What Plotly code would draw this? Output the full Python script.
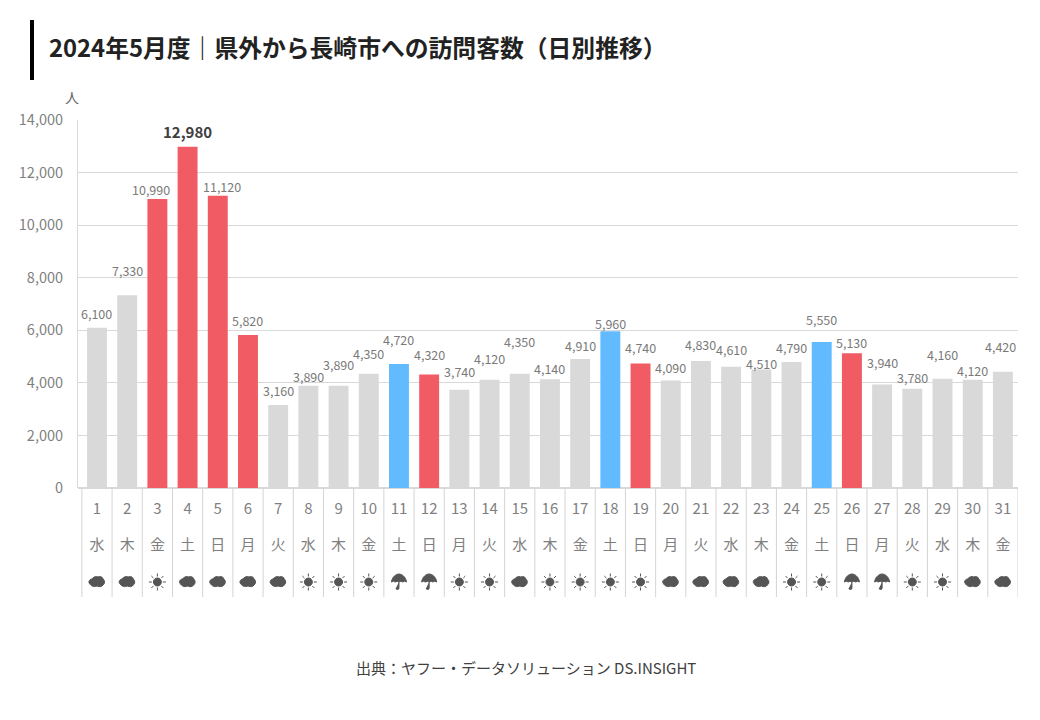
import plotly.graph_objects as go

days = list(range(1, 32))
visitors = [6100, 7330, 10990, 12980, 11120, 5820, 3160, 3890, 3890, 4350, 4720,
            4320, 3740, 4120, 4350, 4140, 4910, 5960, 4740, 4090, 4830, 4610,
            4510, 4790, 5550, 5130, 3940, 3780, 4160, 4120, 4420]
weekdays = list("水木金土日月火水木金土日月火水木金土日月火水木金土日月火水木金")
weather = ["cloud", "cloud", "sun", "cloud", "cloud", "cloud", "cloud", "sun", "sun", "sun",
           "rain", "rain", "sun", "sun", "cloud", "sun", "sun", "sun", "sun", "cloud", "cloud",
           "cloud", "cloud", "sun", "sun", "rain", "rain", "sun", "sun", "cloud", "cloud"]
holidays = [3, 4, 5, 6, 12, 19, 26]
saturdays = [11, 18, 25]
ytick_vals = [0, 2000, 4000, 6000, 8000, 10000, 12000, 14000]

# how far each label floats above its bar (px), they are hand placed in the original
label_lift = [14, 25, 10, 15, 9, 15, 14, 9, 21, 20, 24, 20, 18, 21, 32, 11, 13, 8,
              16, 13, 17, 17, 6, 15, 23, 11, 22, 11, 24, 9, 25]
label_nudge = {3: -6, 5: 4, 31: -2}

W, H = 1040, 720
LEFT, RIGHT, TOP, BOTTOM = 78, 1018, 120, 488
JP = "Noto Sans CJK JP"
RED, BLUE, GREY = "#F15B64", "#63BBFF", "#D9D9D9"
ICON = "#555555"

# weather pictograms, pixel paths around the cell centre
ICON_PATHS = {
    "cloud": "M-7,-2 C-9,-1 -8,3 -5,3 C-4,5 -1,6 1,5 C3,6 6,5 6,3 C8,2 8,-2 6,-3 "
             "C5,-5 2,-5 0,-4 C-2,-5 -5,-5 -7,-2 Z",
    "sun": "M-4,0 C-4,2.2 -2.2,4 0,4 C2.2,4 4,2.2 4,0 C4,-2.2 2.2,-4 0,-4 C-2.2,-4 -4,-2.2 -4,0 Z "
           "M0,5.5 L0,8.5 M0,-5.5 L0,-8.5 M5.5,0 L8.5,0 M-5.5,0 L-8.5,0 "
           "M3.9,3.9 L6,6 M-3.9,3.9 L-6,6 M3.9,-3.9 L6,-6 M-3.9,-3.9 L-6,-6",
    "rain": "M-7.5,0 C-7,5 -3,8 0,8 C3,8 7,5 7.5,0 Q5.5,1.5 3.7,0 Q2,1.5 0,0 Q-2,1.5 -3.7,0 "
            "Q-5.5,1.5 -7.5,0 Z M0,0 L0,-6 Q0,-7.5 -1.5,-7.5 Q-3,-7.5 -3,-6",
}


def px(x):
    return x / W


def py(y):
    return 1 - y / H


def bar_color(d):
    if d in holidays:
        return RED
    if d in saturdays:
        return BLUE
    return GREY


fig = go.Figure(go.Bar(
    x=days, y=visitors, width=0.66,
    marker=dict(color=[bar_color(d) for d in days], line_width=0),
    hoverinfo="x+y"))

# day / weekday rows live on their own axis below the plot, weather icons sit on row 1
fig.add_trace(go.Scatter(x=days, y=[3] * 31, yaxis="y2", mode="text", text=[str(d) for d in days],
                         textfont=dict(family=JP, size=15, color="#7F7F7F"), hoverinfo="skip"))
fig.add_trace(go.Scatter(x=days, y=[2] * 31, yaxis="y2", mode="text", text=weekdays,
                         textfont=dict(family=JP, size=15, color="#7F7F7F"), hoverinfo="skip"))

annotations = []
for d, v, lift in zip(days, visitors, label_lift):
    big = v == max(visitors)
    annotations.append(dict(
        x=d, y=v, xref="x", yref="y", yshift=lift, xshift=label_nudge.get(d, 0),
        text=f"<b>{v:,}</b>" if big else f"{v:,}",
        showarrow=False, yanchor="middle",
        font=dict(family=JP, size=15 if big else 12.5, color="#404040" if big else "#7A7A7A")))

annotations += [
    dict(x=px(47), y=py(47), xref="paper", yref="paper", xanchor="left", yanchor="middle",
         showarrow=False, text="<b>2024年5月度｜県外から長崎市への訪問客数（日別推移）</b>",
         font=dict(family=JP, size=23.8, color="#222222")),
    dict(x=px(72), y=py(97), xref="paper", yref="paper", xanchor="center", showarrow=False, text="人",
         yanchor="middle", font=dict(family=JP, size=14, color="#666666")),
    dict(x=px(526), y=py(667), xref="paper", yref="paper", xanchor="center", showarrow=False,
         text="出典：ヤフー・データソリューション DS.INSIGHT", yanchor="middle",
         font=dict(family=JP, size=15, color="#404040")),
]

shapes = [dict(type="rect", xref="paper", yref="paper", x0=px(30), x1=px(34), y0=py(80), y1=py(20),
               fillcolor="#000000", line_width=0)]
# table rules under the axis
for k in range(32):
    shapes.append(dict(type="line", xref="x", yref="paper", x0=k + 0.5, x1=k + 0.5,
                       y0=py(597), y1=py(488), line=dict(color="#D4D4D4", width=1)))
for d, w in zip(days, weather):
    shapes.append(dict(type="path", path=ICON_PATHS[w], xref="x", yref="y2",
                       xsizemode="pixel", ysizemode="pixel", xanchor=d, yanchor=1,
                       fillcolor=ICON, line=dict(color=ICON, width=1)))

fig.update_layout(
    width=W, height=H, margin=dict(l=0, r=0, t=0, b=0, autoexpand=False), autosize=False,
    paper_bgcolor="white", plot_bgcolor="white", showlegend=False, bargap=0.34,
    annotations=annotations, shapes=shapes,
    xaxis=dict(domain=[px(LEFT), px(RIGHT)], range=[0.371, 31.5], showticklabels=False,
               showgrid=False, zeroline=False, ticks=""),
    yaxis=dict(domain=[py(BOTTOM), py(TOP)], range=[0, 14000], tickvals=ytick_vals,
               tickformat=",", showgrid=True, gridcolor=GREY, gridwidth=1, zeroline=True,
               zerolinecolor=GREY, showline=True, linecolor=GREY, linewidth=1, ticks="",
               ticklabelstandoff=11, tickfont=dict(family=JP, size=14.5, color="#7F7F7F")),
    yaxis2=dict(domain=[py(600), py(492)], range=[0.5, 3.5], visible=False, anchor="x"),
)

fig.write_html("out.html", post_script="document.body.style.margin='0';",
               config={"displayModeBar": False})
